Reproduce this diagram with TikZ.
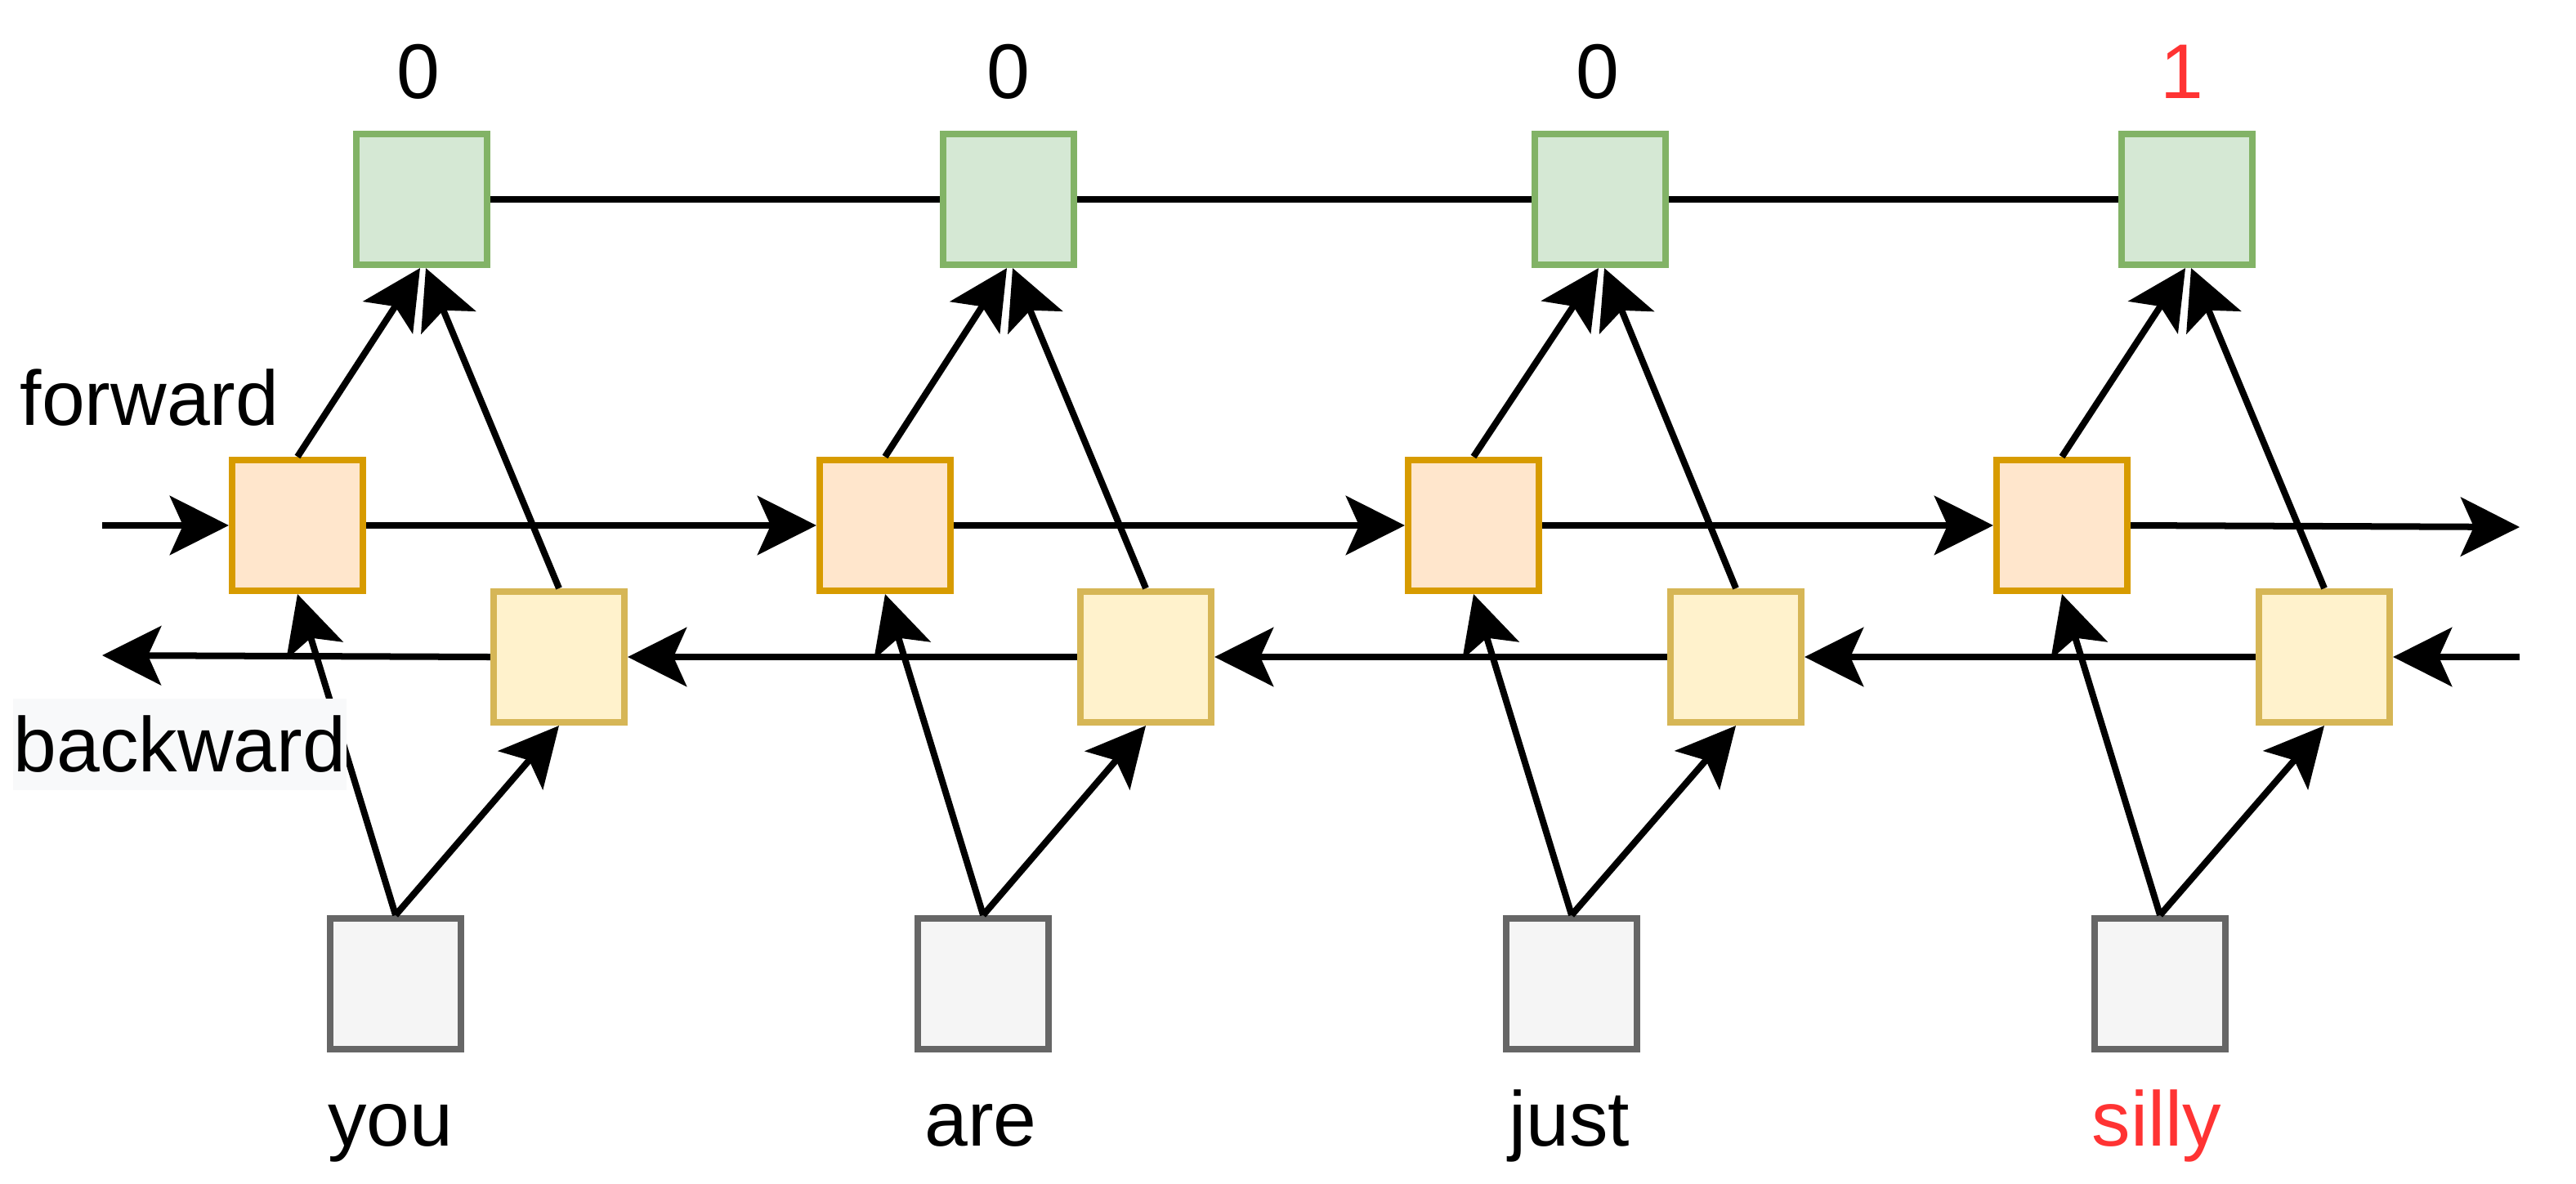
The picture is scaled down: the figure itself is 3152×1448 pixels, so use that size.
\documentclass[tikz,border=0pt]{standalone}
\usepackage{fontspec}
\setmainfont{Liberation Sans}
\usetikzlibrary{arrows.meta}
\definecolor{greenF}{HTML}{D5E8D4}
\definecolor{greenS}{HTML}{82B366}
\definecolor{orangeF}{HTML}{FFE6CC}
\definecolor{orangeS}{HTML}{D79B00}
\definecolor{yellowF}{HTML}{FFF2CC}
\definecolor{yellowS}{HTML}{D6B656}
\definecolor{grayF}{HTML}{F5F5F5}
\definecolor{grayS}{HTML}{666666}
\definecolor{redT}{HTML}{FF3333}
\definecolor{labelBg}{HTML}{F8F9FA}
\begin{document}
\begin{tikzpicture}[x=0.01cm,y=-0.01cm,
  box/.style={draw, line width=0.08cm, minimum width=1.6cm, minimum height=1.6cm, inner sep=0pt},
  outbox/.style={box, draw=greenS, fill=greenF},
  fwdbox/.style={box, draw=orangeS, fill=orangeF},
  bwdbox/.style={box, draw=yellowS, fill=yellowF},
  inbox/.style={box, draw=grayS, fill=grayF},
  conn/.style={line width=0.08cm, -{Stealth[length=0.72cm,width=0.72cm,inset=0.16cm]}},
  link/.style={line width=0.08cm},
  lbl/.style={font=\fontsize{27}{32}\selectfont, inner sep=0pt, anchor=base}]
\useasboundingbox (0,0) rectangle (3152,1448);

% boxes
\node[outbox] (g1) at (516,244) {};
\node[outbox] (g2) at (1234,244) {};
\node[outbox] (g3) at (1958,244) {};
\node[outbox] (g4) at (2676,244) {};

\node[fwdbox] (o1) at (364,643) {};
\node[fwdbox] (o2) at (1083,643) {};
\node[fwdbox] (o3) at (1803,643) {};
\node[fwdbox] (o4) at (2523,643) {};

\node[bwdbox] (y1) at (684,804) {};
\node[bwdbox] (y2) at (1402,804) {};
\node[bwdbox] (y3) at (2124,804) {};
\node[bwdbox] (y4) at (2844,804) {};

\node[inbox] (x1) at (484,1204) {};
\node[inbox] (x2) at (1203,1204) {};
\node[inbox] (x3) at (1923,1204) {};
\node[inbox] (x4) at (2643,1204) {};

% labels
\node[lbl] (t1) at (512,120) {0};
\node[lbl] (t2) at (1234,120) {0};
\node[lbl] (t3) at (1955,120) {0};
\node[lbl, text=redT] (t4) at (2670,120) {1};

\node[lbl] (w1) at (478,1402) {you};
\node[lbl] (w2) at (1200,1402) {are};
\node[lbl] (w3) at (1920,1402) {just};
\node[lbl, text=redT] (w4) at (2639,1402) {silly};

\node[lbl, anchor=base west] (fw) at (24,520) {forward};

% coordinates for free ends
\coordinate (fin) at (125,643);
\coordinate (fout) at (3083,645);
\coordinate (bin) at (3083,804);
\coordinate (bout) at (125,802);

% output chain
\draw[link] (g1.east) -- (g2.west);
\draw[link] (g2.east) -- (g3.west);
\draw[link] (g3.east) -- (g4.west);

% forward chain
\draw[conn] (fin) -- (o1.west);
\draw[conn] (o1.east) -- (o2.west);
\draw[conn] (o2.east) -- (o3.west);
\draw[conn] (o3.east) -- (o4.west);
\draw[conn] (o4.east) -- (fout);

% backward chain
\draw[conn] (bin) -- (y4.east);
\draw[conn] (y4.west) -- (y3.east);
\draw[conn] (y3.west) -- (y2.east);
\draw[conn] (y2.west) -- (y1.east);
\draw[conn] (y1.west) -- (bout);

% vertical connections
\foreach \i in {1,2,3,4}{
  \draw[conn] (x\i.north) -- (o\i.south);
  \draw[conn] (x\i.north) -- (y\i.south);
  \draw[conn] (o\i.north) -- ([xshift=-0.02cm]g\i.south);
  \draw[conn] (y\i.north) -- ([xshift=0.05cm]g\i.south);
}

% backward label drawn over the edges
\node[fill=labelBg, minimum width=4.08cm, minimum height=1.11cm, inner sep=0pt,
      font=\fontsize{27}{32}\selectfont] (bw) at (220,911) {backward};
\end{tikzpicture}
\end{document}
